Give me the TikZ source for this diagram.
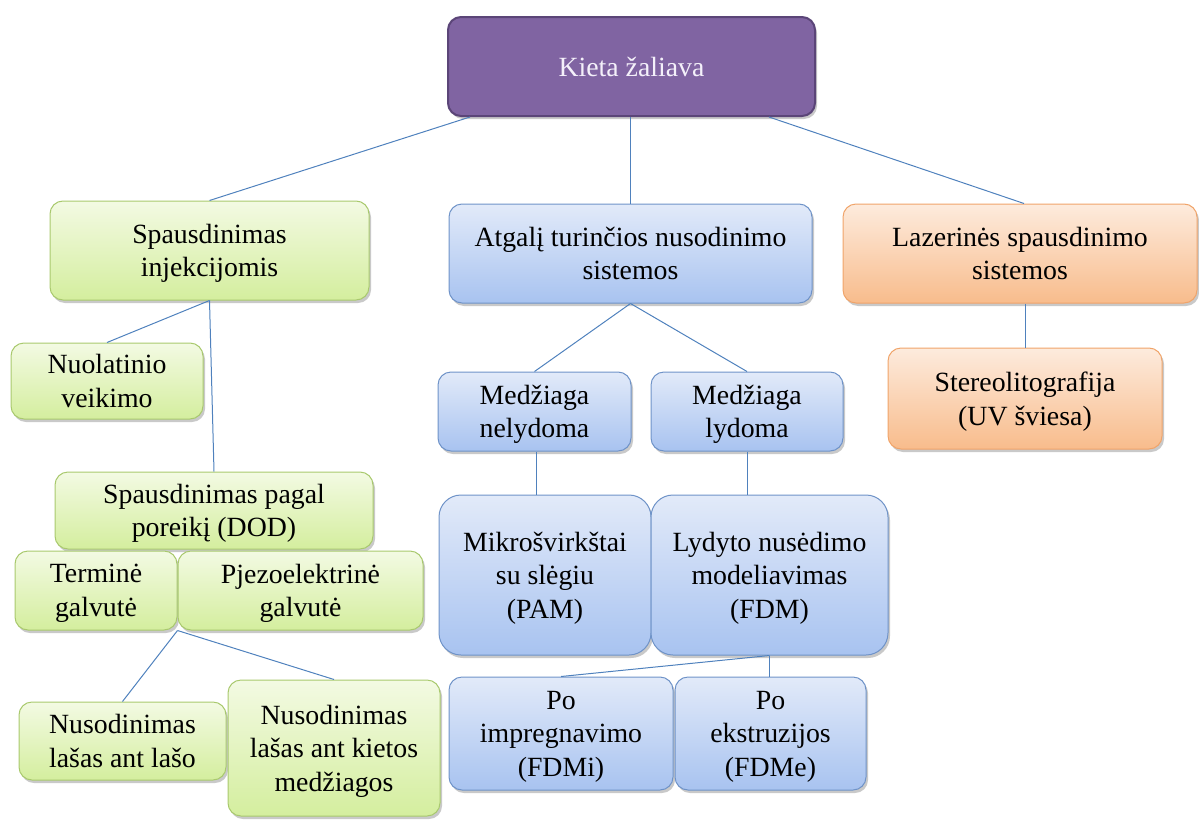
\documentclass[tikz,border=0pt]{standalone}
\usepackage{fontspec}
\setmainfont{Liberation Serif}
\usetikzlibrary{shadows,calc}
\definecolor{conn}{HTML}{4F81BD}
\definecolor{gdraw}{HTML}{A9C96E}
\definecolor{gtop}{HTML}{F3FAE3}
\definecolor{gbot}{HTML}{D4EE9E}
\definecolor{bdraw}{HTML}{6F93C8}
\definecolor{btop}{HTML}{E2EAF9}
\definecolor{bbot}{HTML}{A8C3F0}
\definecolor{odraw}{HTML}{F0A46A}
\definecolor{otop}{HTML}{FDEBDD}
\definecolor{obot}{HTML}{F8BC8C}
\definecolor{pfill}{HTML}{8064A2}
\definecolor{pdraw}{HTML}{5B4578}
\definecolor{ptext}{HTML}{F4F0FA}
\tikzset{
  box/.style={rounded corners=13pt, line width=1pt, align=center, inner sep=0pt,
    font=\fontsize{27.8}{33.5}\selectfont, text depth=-4pt,
    drop shadow={shadow xshift=2pt,shadow yshift=-3pt,opacity=0.3,fill=black!70}},
  gbox/.style={box, draw=gdraw, top color=gtop, bottom color=gbot},
  bbox/.style={box, draw=bdraw, top color=btop, bottom color=bbot},
  obox/.style={box, draw=odraw, top color=otop, bottom color=obot},
  pbox/.style={box, draw=pdraw, line width=2pt, fill=pfill, text=ptext},
  link/.style={draw=conn, line width=1pt}
}
\begin{document}
\begin{tikzpicture}[x=1pt,y=-1pt]
\useasboundingbox (0,0) rectangle (1199,819);
% top
\node[pbox, minimum width=367pt, minimum height=99pt] (top) at (631.5,66.5) {Kieta žaliava};
% green branch
\node[gbox, minimum width=319pt, minimum height=99pt] (inj) at (209.5,250.5) {Spausdinimas\\injekcijomis};
\node[gbox, minimum width=192pt, minimum height=76pt] (nuol) at (107,381) {Nuolatinio\\veikimo};
\node[gbox, minimum width=318pt, minimum height=77pt] (dod) at (214,510.5) {Spausdinimas pagal\\poreikį (DOD)};
\node[gbox, minimum width=162pt, minimum height=79pt] (term) at (96,590.5) {Terminė\\galvutė};
\node[gbox, minimum width=245pt, minimum height=79pt] (pjezo) at (300.5,590.5) {Pjezoelektrinė\\galvutė};
\node[gbox, minimum width=207pt, minimum height=78pt] (lasas) at (122.5,741) {Nusodinimas\\lašas ant lašo};
\node[gbox, minimum width=212pt, minimum height=136pt] (kietos) at (334,748) {Nusodinimas\\lašas ant kietos\\medžiagos};
% blue branch
\node[bbox, minimum width=363pt, minimum height=99pt] (atg) at (630.5,253.5) {Atgalį turinčios nusodinimo\\sistemos};
\node[bbox, minimum width=193pt, minimum height=79pt] (nely) at (534.5,411.5) {Medžiaga\\nelydoma};
\node[bbox, minimum width=192pt, minimum height=79pt] (lyd) at (747,411.5) {Medžiaga\\lydoma};
\node[bbox, minimum width=212pt, minimum height=160pt, rounded corners=22pt] (pam) at (545,575) {Mikrošvirkštai\\su slėgiu\\(PAM)};
\node[bbox, minimum width=237pt, minimum height=160pt, rounded corners=22pt] (fdm) at (769.5,575) {Lydyto nusėdimo\\modeliavimas\\(FDM)};
\node[bbox, minimum width=224pt, minimum height=113pt] (impr) at (561,733.5) {Po\\impregnavimo\\(FDMi)};
\node[bbox, minimum width=191pt, minimum height=113pt] (ekst) at (770.5,733.5) {Po\\ekstruzijos\\(FDMe)};
% orange branch
\node[obox, minimum width=354pt, minimum height=99pt] (laz) at (1020,253.5) {Lazerinės spausdinimo\\sistemos};
\node[obox, minimum width=274pt, minimum height=101pt] (stereo) at (1025,398.5) {Stereolitografija\\(UV šviesa)};
% connector helper points
\coordinate (topL) at ($(top.south west)+(23,0)$);
\coordinate (topR) at ($(top.south west)+(322,0)$);
\coordinate (lazT) at ($(laz.north)+(4,0)$);
\coordinate (nelyB) at ($(nely.south)+(2,0)$);
\coordinate (pamT) at (nelyB |- pam.north);
% connectors
\draw[link] (topL) -- (inj.north);
\draw[link] (top.south -| atg.north) -- (atg.north);
\draw[link] (topR) -- (lazT);
\draw[link] (inj.south) -- (nuol.north);
\draw[link] (inj.south) -- (dod.north);
\draw[link] (pjezo.south west) -- (lasas.north);
\draw[link] (pjezo.south west) -- (kietos.north);
\draw[link] (atg.south) -- (nely.north);
\draw[link] (atg.south) -- (lyd.north);
\draw[link] (nelyB) -- (pamT);
\draw[link] (lyd.south) -- (lyd.south |- fdm.north);
\draw[link] (fdm.south) -- (impr.north);
\draw[link] (fdm.south) -- (fdm.south |- ekst.north);
\draw[link] (stereo.north |- laz.south) -- (stereo.north);
\end{tikzpicture}
\end{document}
